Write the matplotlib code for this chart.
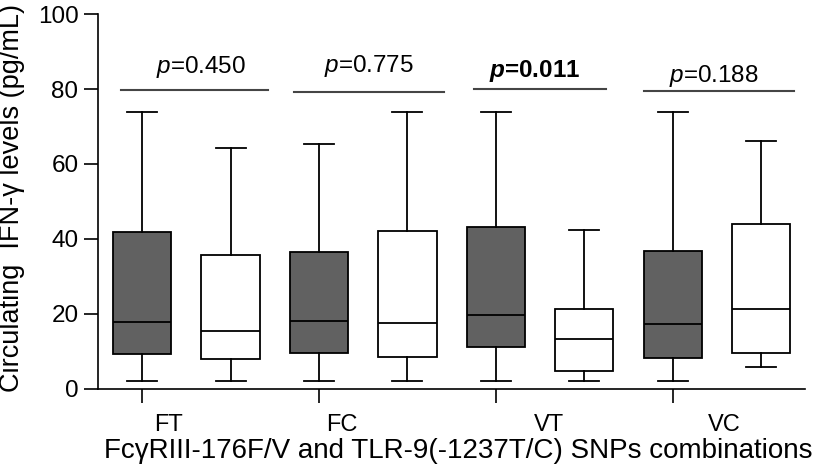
import matplotlib
matplotlib.use("Agg")
import matplotlib.pyplot as plt

plt.rcParams['font.family'] = ['Liberation Sans', 'DejaVu Sans']
plt.rcParams['mathtext.fontset'] = 'custom'
plt.rcParams['mathtext.rm'] = 'Liberation Sans'
plt.rcParams['mathtext.it'] = 'Liberation Sans:italic'
plt.rcParams['mathtext.bf'] = 'Liberation Sans:bold:italic'

# datos (pg/mL)
grupos = ["FT", "FC", "VT", "VC"]
bigote_inf = [2.1, 2.1, 2.1, 2.1, 2.1, 2.1, 2.1, 5.8]
q1 = [9.3, 8.0, 9.5, 8.4, 11.1, 4.7, 8.3, 9.6]
mediana = [17.9, 15.5, 18.2, 17.7, 19.6, 13.4, 17.2, 21.4]
q3 = [41.9, 35.7, 36.4, 42.1, 43.1, 21.4, 36.8, 44.0]
bigote_sup = [73.9, 64.2, 65.2, 73.9, 73.9, 42.3, 73.9, 66.0]
valores_p = ["0.450", "0.775", "0.011", "0.188"]
p_negrita = [False, False, True, False]

# posiciones de las lineas, textos de p y etiquetas (layout)
linea_x = [(0.76, 2.42), (2.72, 4.41), (4.75, 6.24), (6.68, 8.375)]
linea_y = [79.7, 79.2, 80.0, 79.5]
texto_x = [1.67, 3.56, 5.44, 7.47]
texto_y = [84.3, 84.5, 83.2, 82.0]
etiqueta_x = [1.30, 3.26, 5.60, 7.58]

# Se arman las estadisticas para bxp
stats = []
for i in range(len(q1)):
    stats.append({"whislo": bigote_inf[i], "q1": q1[i], "med": mediana[i],
                  "q3": q3[i], "whishi": bigote_sup[i], "fliers": []})

fig = plt.figure(figsize=(8.16, 4.68), dpi=100)
ax = fig.add_axes([0.120, 0.169, 0.867, 0.801])

posiciones = list(range(1, len(stats) + 1))
res = ax.bxp(stats, positions=posiciones, widths=0.66, capwidths=0.34,
             patch_artist=True, showfliers=False,
             boxprops=dict(edgecolor="black", linewidth=1.3),
             medianprops=dict(color="black", linewidth=1.3),
             whiskerprops=dict(color="black", linewidth=1.3),
             capprops=dict(color="black", linewidth=1.3))
for i, caja in enumerate(res["boxes"]):
    caja.set_facecolor("#616161" if i % 2 == 0 else "white")

for k in range(len(grupos)):
    ax.plot(linea_x[k], [linea_y[k], linea_y[k]], color="#454545", lw=1.5,
            clip_on=False)
    if p_negrita[k]:
        etiqueta = r"$\mathbf{p}$=" + valores_p[k]
        peso = "bold"
    else:
        etiqueta = r"$\it{p}$=" + valores_p[k]
        peso = "normal"
    ax.text(texto_x[k], texto_y[k], etiqueta, ha="center", va="baseline",
            fontsize=17.5, fontweight=peso)

ax.set_xlim(0.5, 8.5)
ax.set_ylim(0, 100)
ax.set_yticks([0, 20, 40, 60, 80, 100])
# ticks en las cajas oscuras, etiquetas corridas a la derecha (como el original)
ax.set_xticks([1, 3, 5, 7])
ax.set_xticklabels([])
ax.set_xticks(etiqueta_x, minor=True)
ax.set_xticklabels(grupos, minor=True)
ax.tick_params(axis="both", which="major", labelsize=17.5, length=10,
               width=1.2, direction="out")
ax.tick_params(axis="x", which="minor", length=0, pad=18, labelsize=17)
ax.tick_params(axis="y", pad=4)
ax.spines["top"].set_visible(False)
ax.spines["right"].set_visible(False)
ax.spines["left"].set_linewidth(1.2)
ax.spines["bottom"].set_linewidth(1.2)
ax.set_xlabel("Fc\u03b3RIII-176F/V and TLR-9(-1237T/C) SNPs combinations",
              fontsize=20, va="top")
ax.set_ylabel("Circulating  IFN-\u03b3 levels (pg/mL)", fontsize=19.5)
ax.xaxis.set_label_coords(0.510, -0.132)
ax.yaxis.set_label_coords(-0.103, 0.51)

plt.savefig("out.png", dpi=100)
